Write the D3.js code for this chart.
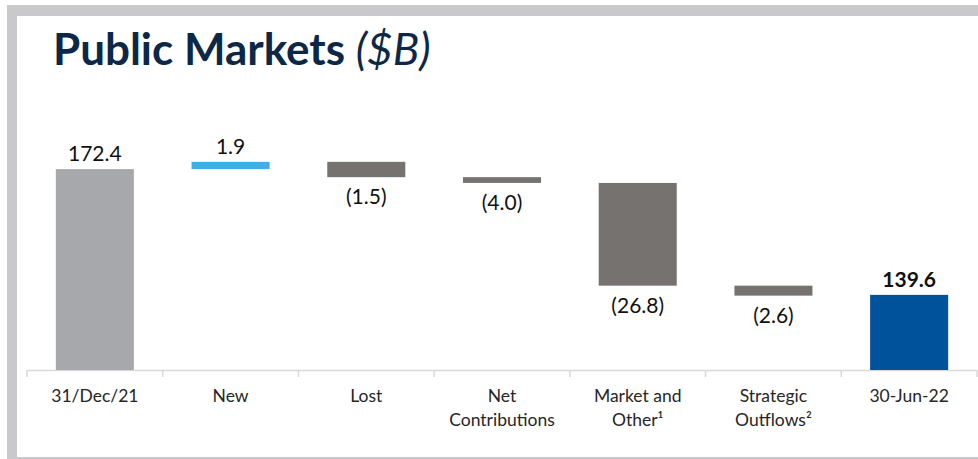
<!DOCTYPE html>
<html>
<head>
<meta charset="utf-8">
<script src="https://cdn.jsdelivr.net/npm/d3@7"></script>
<style>
  html, body { margin: 0; padding: 0; background: #fff; }
  svg { display: block; font-family: Lato, "Open Sans", sans-serif; }
</style>
</head>
<body>
<svg id="chart" width="978" height="459"></svg>
<script>
// categories on the x axis (second line after "|")
const categories = ["31/Dec/21", "New", "Lost", "Net|Contributions", "Market and|Other\u00b9", "Strategic|Outflows\u00b2", "30-Jun-22"];
// bar kind: total or step
const kinds = ["total", "up", "down", "down", "down", "down", "total"];
// bar sizes as drawn ($B)
const values = [172.4, 1.9, -4.0, -1.5, -26.8, -2.6, 139.6];
// data labels as printed
const labels = ["172.4", "1.9", "(1.5)", "(4.0)", "(26.8)", "(2.6)", "139.6"];

const svg = d3.select("#chart");
const width = +svg.attr("width");
const height = +svg.attr("height");

const colors = { total: "#A7A8AC", up: "#3FAEEC", down: "#767270", end: "#00529A" };

// frame
svg.append("rect").attr("x", 7).attr("y", 5).attr("width", width).attr("height", 11).attr("fill", "#C9C9CB");
svg.append("rect").attr("x", 7).attr("y", 5).attr("width", 10).attr("height", height).attr("fill", "#C9C9CB");
svg.append("rect").attr("x", 7).attr("y", 457).attr("width", width).attr("height", 3).attr("fill", "#C9C9CB");

// title
const title = svg.append("text")
  .attr("x", 53).attr("y", 65)
  .attr("fill", "#0C2846")
  .style("font-size", "44px");
title.append("tspan").attr("font-weight", "bold").text("Public Markets ");
title.append("tspan").attr("font-style", "italic").text("($B)");

// waterfall steps
let run = 0;
const bars = values.map((v, i) => {
  let y0, y1;
  if (kinds[i] === "total") { y0 = 0; y1 = v; run = v; }
  else { y0 = run; y1 = run + v; run = y1; }
  return { cat: categories[i], kind: kinds[i], v, lo: Math.min(y0, y1), hi: Math.max(y0, y1), label: labels[i], last: i === values.length - 1 };
});

const x = d3.scaleBand().domain(categories).range([27, 977]).padding(0);
const y = d3.scaleLinear().domain([120, 180]).range([370, 140]);
const barW = x.bandwidth() * 0.575;
const yMin = y.domain()[0];

// axis
const axis = svg.append("g")
  .attr("transform", `translate(0,370)`)
  .call(d3.axisBottom(x).tickSize(0).tickFormat(""));
axis.select(".domain").attr("stroke", "#D9D9D9").attr("stroke-width", 1.5);
axis.selectAll(".tick").remove();
axis.selectAll(".sep")
  .data(d3.range(categories.length + 1))
  .enter().append("line")
  .attr("x1", i => 27 + i * x.step()).attr("x2", i => 27 + i * x.step())
  .attr("y1", 0).attr("y2", 7)
  .attr("stroke", "#D9D9D9").attr("stroke-width", 1.5);

// category labels
const catText = svg.append("g").selectAll("text")
  .data(categories)
  .enter().append("text")
  .attr("x", d => x(d) + x.bandwidth() / 2)
  .attr("y", 402)
  .attr("text-anchor", "middle")
  .attr("fill", "#262626")
  .style("font-size", "17.5px");
catText.each(function (d) {
  const parts = d.split("|");
  parts.forEach((p, k) => {
    d3.select(this).append("tspan")
      .attr("x", x(d) + x.bandwidth() / 2)
      .attr("dy", k === 0 ? 0 : 24)
      .text(p);
  });
});

// bars
svg.append("g").selectAll("rect")
  .data(bars)
  .enter().append("rect")
  .attr("x", d => x(d.cat) + (x.bandwidth() - barW) / 2)
  .attr("width", barW)
  .attr("y", d => y(d.hi))
  .attr("height", d => y(Math.max(d.lo, yMin)) - y(d.hi))
  .attr("fill", d => d.last ? colors.end : colors[d.kind]);

// value labels
svg.append("g").selectAll("text")
  .data(bars)
  .enter().append("text")
  .attr("x", d => x(d.cat) + x.bandwidth() / 2)
  .attr("y", d => d.kind === "down" ? y(d.lo) + 27 : y(d.hi) - 8)
  .attr("text-anchor", "middle")
  .attr("fill", "#111")
  .attr("font-weight", d => d.last ? "bold" : "normal")
  .style("font-size", "21px")
  .text(d => d.label);
</script>
</body>
</html>
